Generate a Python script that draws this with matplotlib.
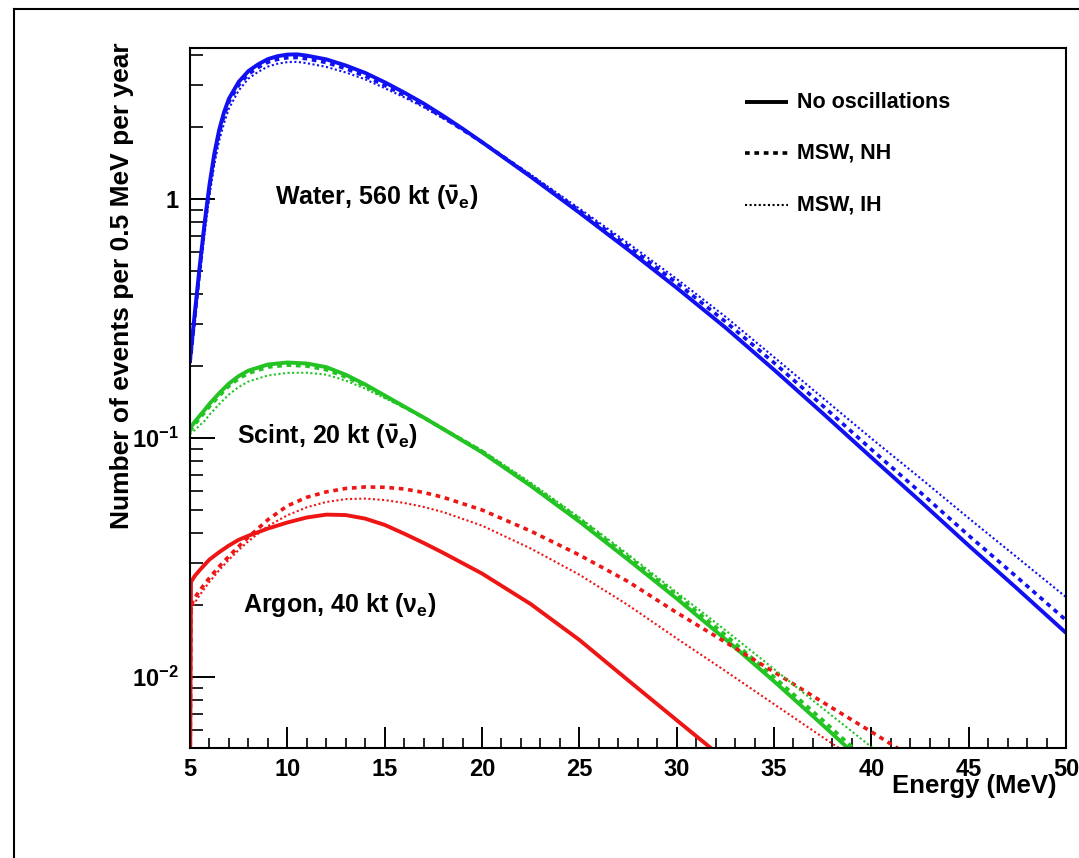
import matplotlib
matplotlib.use("Agg")
import matplotlib.pyplot as plt
from matplotlib.ticker import FixedLocator, LogLocator, NullFormatter, FixedFormatter
from matplotlib.lines import Line2D

plt.rcParams['font.family'] = ['Liberation Sans', 'DejaVu Sans']
plt.rcParams['font.weight'] = 'bold'
plt.rcParams['mathtext.fontset'] = 'custom'
plt.rcParams['mathtext.rm'] = 'Liberation Sans:bold'
plt.rcParams['mathtext.it'] = 'Liberation Sans:bold'
plt.rcParams['mathtext.bf'] = 'Liberation Sans:bold'

# ---------------- data ----------------
E_water = [5, 5.25, 5.5, 5.75, 6, 6.25, 6.5, 6.75, 7, 7.5, 8, 8.5, 9, 9.5, 10, 10.5, 11, 12, 13,
           14, 15, 16, 17, 18, 19, 20, 22.5, 25, 27.5, 30, 32.5, 35, 37.5, 40, 42.5, 45, 47.5, 50]
water_noosc = [0.212, 0.336, 0.525, 0.794, 1.148, 1.549, 1.95, 2.31, 2.63, 3.09, 3.43, 3.66, 3.85,
               3.96, 4.02, 4.03, 3.98, 3.84, 3.62, 3.37, 3.08, 2.79, 2.51, 2.23, 1.97, 1.73, 1.24,
               0.877, 0.614, 0.425, 0.29, 0.193, 0.127, 0.083, 0.0545, 0.0355, 0.0234, 0.0153]
water_nh = [0.206, 0.326, 0.509, 0.770, 1.114, 1.503, 1.892, 2.241, 2.551, 2.997, 3.327, 3.55,
            3.735, 3.841, 3.899, 3.909, 3.861, 3.725, 3.511, 3.269, 2.988, 2.72, 2.46, 2.197,
            1.95, 1.73, 1.252, 0.895, 0.635, 0.446, 0.307, 0.2065, 0.1365, 0.0896, 0.0594,
            0.0391, 0.0261, 0.0173]
water_ih = [0.197, 0.302, 0.473, 0.715, 1.033, 1.394, 1.755, 2.079, 2.393, 2.843, 3.19, 3.404,
            3.581, 3.683, 3.739, 3.748, 3.701, 3.571, 3.385, 3.168, 2.911, 2.664, 2.422, 2.174,
            1.95, 1.73, 1.265, 0.912, 0.654, 0.463, 0.322, 0.218, 0.1473, 0.0996, 0.0681,
            0.0462, 0.0316, 0.0216]

E_scint = [5, 5.25, 5.5, 5.75, 6, 6.5, 7, 7.5, 8, 9, 10, 11, 12, 13, 14, 15, 16, 17, 18, 20,
           22.5, 25, 27.5, 30, 32.5, 35, 37.5, 40, 42.5]
scint_noosc = [0.11, 0.117, 0.124, 0.131, 0.139, 0.154, 0.169, 0.1815, 0.1914, 0.203, 0.207,
               0.205, 0.198, 0.184, 0.1675, 0.1507, 0.1355, 0.1219, 0.1091, 0.0871, 0.0631,
               0.0447, 0.031, 0.0213, 0.0144, 0.0096, 0.0063, 0.0041, 0.0026]
scint_nh = [0.107, 0.114, 0.121, 0.128, 0.1355, 0.150, 0.165, 0.177, 0.1866, 0.198, 0.2018,
            0.200, 0.193, 0.180, 0.165, 0.149, 0.1348, 0.1219, 0.1091, 0.088, 0.064, 0.0458,
            0.0319, 0.022, 0.015, 0.01, 0.0066, 0.0043, 0.0028]
scint_ih = [0.104, 0.108, 0.113, 0.1179, 0.1251, 0.1386, 0.1521, 0.1634, 0.1723, 0.1827, 0.1873,
            0.1876, 0.1841, 0.1739, 0.1608, 0.1469, 0.1341, 0.1219, 0.1102, 0.0888, 0.065,
            0.0465, 0.0326, 0.0226, 0.0157, 0.0108, 0.0074, 0.0051, 0.0033]

E_argon = [5, 5.05, 5.25, 5.5, 5.75, 6, 6.5, 7, 7.5, 8, 9, 10, 11, 12, 13, 14, 15, 16, 17, 18,
           20, 22.5, 25, 27.5, 30, 32.5, 35, 37.5, 40, 42.5]
argon_noosc = [0.003, 0.025, 0.0265, 0.028, 0.0295, 0.031, 0.0333, 0.0355, 0.0375, 0.039,
               0.0418, 0.0443, 0.0465, 0.0478, 0.0476, 0.046, 0.0433, 0.0398, 0.0364, 0.0331,
               0.0271, 0.0202, 0.0143, 0.0097, 0.0066, 0.0045, 0.0029, 0.0019, 0.0012, 0.0008]
argon_nh = [0.003, 0.02, 0.0215, 0.023, 0.0245, 0.026, 0.029, 0.032, 0.0352, 0.0385, 0.0455,
            0.052, 0.0565, 0.0595, 0.0615, 0.0624, 0.0622, 0.0612, 0.0592, 0.0565, 0.050,
            0.0408, 0.0324, 0.0251, 0.0186, 0.014, 0.0105, 0.00785, 0.0059, 0.0044]
argon_ih = [0.003, 0.019, 0.0205, 0.022, 0.0235, 0.025, 0.028, 0.031, 0.034, 0.037, 0.0428,
            0.0475, 0.0513, 0.054, 0.0555, 0.0558, 0.055, 0.0535, 0.0515, 0.049, 0.043,
            0.0345, 0.0268, 0.020, 0.0145, 0.0106, 0.0077, 0.0056, 0.0041, 0.003]

x_ticks = [5, 10, 15, 20, 25, 30, 35, 40, 45, 50]
y_major = [0.01, 0.1, 1]
y_major_labels = [r'$10^{-2}$', r'$10^{-1}$', '1']
legend_labels = ['No oscillations', 'MSW, NH', 'MSW, IH']
det_labels = [r'Water, 560 kt ($\bar{\nu}_{e}$)', r'Scint, 20 kt ($\bar{\nu}_{e}$)',
              r'Argon, 40 kt ($\nu_{e}$)']

# ---------------- styles ----------------
BLUE = '#1010f0'
GREEN = '#22c322'
RED = '#ee1515'
solid_kw = dict(lw=2.8, ls='-', solid_capstyle='butt', solid_joinstyle='round')
dash_kw = dict(lw=2.6, ls=(0, (1.3, 1.3)), dash_capstyle='butt')
dot_kw = dict(lw=1.5, ls=(0, (1.0, 1.2)), dash_capstyle='butt')

W, H = 1079, 858
fig = plt.figure(figsize=(W / 100, H / 100), dpi=100)
fig.patch.set_facecolor('white')

ax_l, ax_r, ax_t, ax_b = 190, 1066, 48, 748
ax = fig.add_axes([ax_l / W, 1 - ax_b / H, (ax_r - ax_l) / W, (ax_b - ax_t) / H])

for E, vals, col in [(E_water, water_noosc, BLUE), (E_scint, scint_noosc, GREEN), (E_argon, argon_noosc, RED)]:
    ax.plot(E, vals, color=col, **solid_kw)
for E, vals, col in [(E_water, water_nh, BLUE), (E_scint, scint_nh, GREEN), (E_argon, argon_nh, RED)]:
    ax.plot(E, vals, color=col, **dash_kw)
for E, vals, col in [(E_water, water_ih, BLUE), (E_scint, scint_ih, GREEN), (E_argon, argon_ih, RED)]:
    ax.plot(E, vals, color=col, **dot_kw)

ax.set_yscale('log')
ax.set_xlim(5, 50)
ax.set_ylim(10 ** -2.297, 10 ** 0.6318)

ax.xaxis.set_major_locator(FixedLocator(x_ticks))
ax.xaxis.set_minor_locator(FixedLocator([v for v in range(5, 51)]))
ax.set_xticklabels([str(v) for v in x_ticks])
ax.yaxis.set_major_locator(FixedLocator(y_major))
ax.yaxis.set_major_formatter(FixedFormatter(y_major_labels))
ax.yaxis.set_minor_locator(LogLocator(base=10, subs=[2, 3, 4, 5, 6, 7, 8, 9], numticks=20))
ax.yaxis.set_minor_formatter(NullFormatter())

ax.tick_params(axis='x', which='major', direction='in', length=15, width=1.4, labelsize=17, pad=7,
               top=False)
ax.tick_params(axis='x', which='minor', direction='in', length=7.5, width=1.2, top=False)
ax.tick_params(axis='y', which='major', direction='in', length=18, width=1.4, labelsize=17, pad=8,
               right=False)
ax.tick_params(axis='y', which='minor', direction='in', length=9, width=1.2, right=False)
for lab in ax.get_xticklabels() + ax.get_yticklabels():
    lab.set_fontweight('bold')
for sp in ax.spines.values():
    sp.set_linewidth(1.5)

# detector annotations
det_pos = [(275, 198), (237, 437), (243, 605)]
for (px, py), txt in zip(det_pos, det_labels):
    fig.text(px / W, 1 - py / H, txt, fontsize=18, fontweight='bold', ha='left', va='center')

# legend
styles = [solid_kw, dash_kw, dot_kw]
rows = [102, 153, 205]
for lab, kw, ry in zip(legend_labels, styles, rows):
    yy = 1 - ry / H
    fig.add_artist(Line2D([745 / W, 788 / W], [yy, yy], color='black', **kw))
    fig.text(797 / W, yy, lab, fontsize=15.5, fontweight='bold', ha='left', va='center')

# axis titles
fig.text(122 / W, 1 - 42 / H, 'Number of events per 0.5 MeV per year', rotation=90,
         fontsize=19, fontweight='bold', ha='center', va='top')
fig.text(1057 / W, 1 - 786 / H, 'Energy (MeV)', fontsize=18.5, fontweight='bold', ha='right',
         va='center')

# outer frame (top and left edges visible)
fig.add_artist(Line2D([14 / W, 1.0], [1 - 9 / H, 1 - 9 / H], color='black', lw=1.5))
fig.add_artist(Line2D([14 / W, 14 / W], [0, 1 - 9 / H], color='black', lw=1.5))

fig.savefig('out.png', dpi=100)
